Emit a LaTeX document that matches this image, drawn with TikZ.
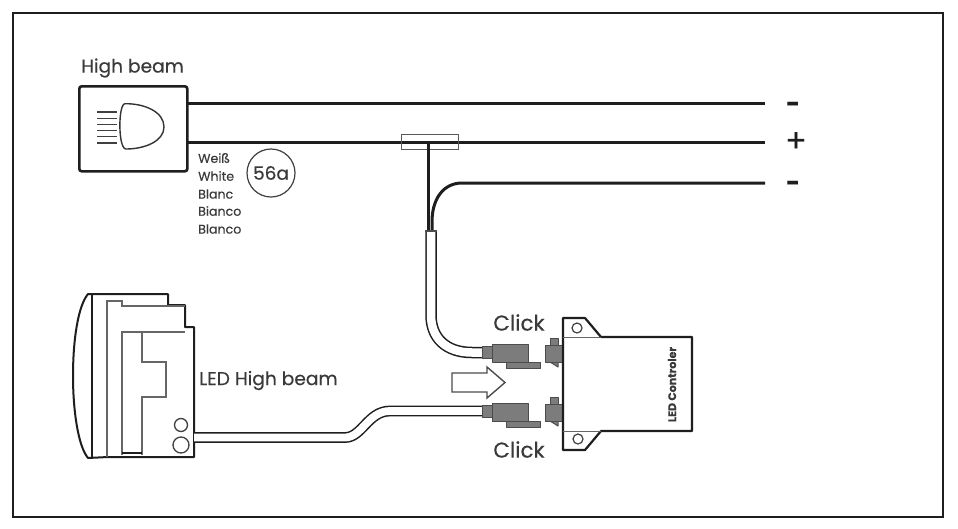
\documentclass[tikz,border=0pt]{standalone}
\usepackage{fontspec}
\setmainfont{Poppins}[FakeBold=0.25]
\definecolor{ink}{HTML}{1E1E1E}
\definecolor{txt}{HTML}{3A3A3A}
\definecolor{plug}{HTML}{7C7C7C}
\tikzset{
  wire/.style={draw=ink,line width=3pt},
  thinline/.style={draw=ink,line width=1.6pt,line join=round},
  greyline/.style={draw=black!60,line width=1.3pt,line join=miter},
  plugpart/.style={draw=black!70,fill=plug,line width=1pt,line join=round},
  label/.style={inner sep=0pt,text=txt},
  small/.style={label,font=\fontsize{12.6}{13}\selectfont,anchor=west},
  big/.style={label,font=\fontsize{18.6}{20}\selectfont},
  click/.style={label,font=\fontsize{21.5}{24}\selectfont},
  sign/.style={label,font=\bfseries\fontsize{24}{24}\selectfont,text=ink},
}
\begin{document}
\begin{tikzpicture}[x=1pt,y=-1pt]
\useasboundingbox (0,0) rectangle (958,528);
\fill[white] (0,0) rectangle (958,528);
\node[draw=ink,line width=2.4pt,minimum width=930pt,minimum height=504pt,inner sep=0pt,anchor=north west] (frame) at (12,12) {};

% high beam box
\node[draw=ink,line width=2.6pt,rounded corners=2.5pt,minimum width=108pt,minimum height=85pt,inner sep=0pt,anchor=north west] (hb) at (78,85) {};
\node[big] (hbl) at (132.5,68) {High beam};
\foreach \y in {112,118.2,124.4,130.6,136.8,143} \draw[draw=black!75,line width=1.2pt] (97,\y) -- (117,\y);
\draw[draw=black!80,line width=1.4pt] (125,103.7) .. controls (145,103.5) and (164,112) .. (164,127)
  .. controls (164,141) and (145,149) .. (126,149) .. controls (118,149) and (118,104) .. (125,103.7) -- cycle;

% supply wires
\coordinate (a1) at (186,103.5); \coordinate (a2) at (765,103.5);
\coordinate (b1) at (186,142); \coordinate (b2) at (765,142);
\coordinate (c2) at (765,183);
\node[sign] (minusa) at (793,107) {-};
\node[sign,font=\fontsize{32}{32}\selectfont] (plus) at (796,142) {+};
\node[sign] (minusb) at (793,186) {-};
\draw[wire] (a1) -- (a2);
\draw[wire] (b1) -- (b2);
\node[draw=black!65,line width=1.3pt,minimum width=57pt,minimum height=15pt,inner sep=0pt,anchor=north west] (tap) at (401,134) {};
\coordinate (t1) at (428,142); \coordinate (t2) at (428,231);
\draw[wire] (t1) -- (t2);
\coordinate (c1) at (432,231);
\draw[wire] (c1) -- (432,222) .. controls (432,198) and (444,183) .. (462,183) -- (c2);

% labels
\node[small] (w1) at (198,158) {Weiß};
\node[small] (w2) at (198,176) {White};
\node[small] (w3) at (198,194) {Blanc};
\node[small] (w4) at (198,211) {Bianco};
\node[small] (w5) at (198,229) {Blanco};
\node[draw=black!75,line width=1.2pt,circle,minimum size=48pt,inner sep=0pt,label,font=\fontsize{18.5}{20}\selectfont] (sa) at (271,173) {56a};

% LED headlamp
\draw[draw=ink,line width=2pt,line join=round] (88,294) -- (168,294) -- (168,305) -- (185,305) -- (185,327) -- (194,327) -- (194,457) -- (108,457) -- (88,458)
  .. controls (78,446) and (73,410) .. (73,376) .. controls (73,340) and (78,306) .. (88,294) -- cycle;
\draw[thinline] (92,294) -- (92,457);
\draw[greyline] (107,457) -- (107,301) -- (122,301) -- (122,306) -- (185,306);
\draw[greyline] (122,455) -- (122,332) -- (185,332);
\draw[greyline] (142,332) -- (142,362) -- (166,362) -- (166,397) -- (142,397) -- (142,455);
\draw[draw=ink,line width=2pt] (122,453) -- (142,453);
\node[draw=black!75,line width=1.3pt,circle,minimum size=13pt,inner sep=0pt] (h1) at (181,425) {};
\node[draw=black!75,line width=1.3pt,circle,minimum size=16pt,inner sep=0pt] (h2) at (181,445) {};
\node[big,anchor=west] (ledl) at (199,380.5) {LED High beam};

% cables
\coordinate (u1) at (431,231); \coordinate (u2) at (484,352.5);
\draw[draw=ink,line width=11.5pt] (u1) -- (431,315) .. controls (431,338) and (446,352.5) .. (472,352.5) -- (u2);
\draw[draw=white,line width=8.5pt] ([yshift=0.8pt]u1) -- (431,315) .. controls (431,338) and (446,352.5) .. (472,352.5) -- (u2);
\draw[draw=black!70,line width=1.2pt] (425.2,231) -- (436.8,231);
\coordinate (v1) at (194,437.5); \coordinate (v2) at (484,411);
\draw[draw=ink,line width=10.8pt] (v1) -- (345,437.5) .. controls (362,437.5) and (368,411) .. (390,411) -- (v2);
\draw[draw=white,line width=7.8pt] (v1) -- (345,437.5) .. controls (362,437.5) and (368,411) .. (390,411) -- (v2);

% plugs
\foreach \d/\n in {0/a,59/b}{
  \begin{scope}[yshift=-\d pt]
    \draw[plugpart] (506,362) rectangle (540,368);
    \draw[plugpart] (482,346) rectangle (492,358);
    \draw[plugpart] (492,344) rectangle (528,362);
    \draw[plugpart] (550,338) rectangle (558,346);
    \draw[plugpart] (550,362) -- (558,367) -- (558,362) -- cycle;
    \draw[plugpart] (545,345) rectangle (563,362);
  \end{scope}
}
% arrow
\draw[draw=black!70,fill=white,line width=1.4pt,line join=miter] (452,373) -- (487,373) -- (487,367) -- (505,382.5) -- (487,398) -- (487,392) -- (452,392) -- cycle;

% controller
\node[inner sep=0pt] (ctl) at (627,384) {};
\draw[draw=ink,line width=2.2pt,fill=white,line join=round] (563,318) -- (585,318) -- (601,337) -- (692,337) -- (692,431) -- (601,431) -- (585,450) -- (563,450) -- cycle;
\draw[greyline,line width=1pt] (563,337) -- (601,337) (563,431) -- (601,431);
\node[draw=black!75,line width=1.2pt,circle,minimum size=10pt,inner sep=0pt] (k1) at (577,328) {};
\node[draw=black!75,line width=1.2pt,circle,minimum size=10pt,inner sep=0pt] (k2) at (578,439) {};
\node[label,rotate=90,font=\bfseries\fontsize{11}{12}\selectfont] (ctlt) at (672,384.5) {LED Controler};
\node[click] (cl1) at (519,322.5) {Click};
\node[click] (cl2) at (519,449.5) {Click};
\end{tikzpicture}
\end{document}
